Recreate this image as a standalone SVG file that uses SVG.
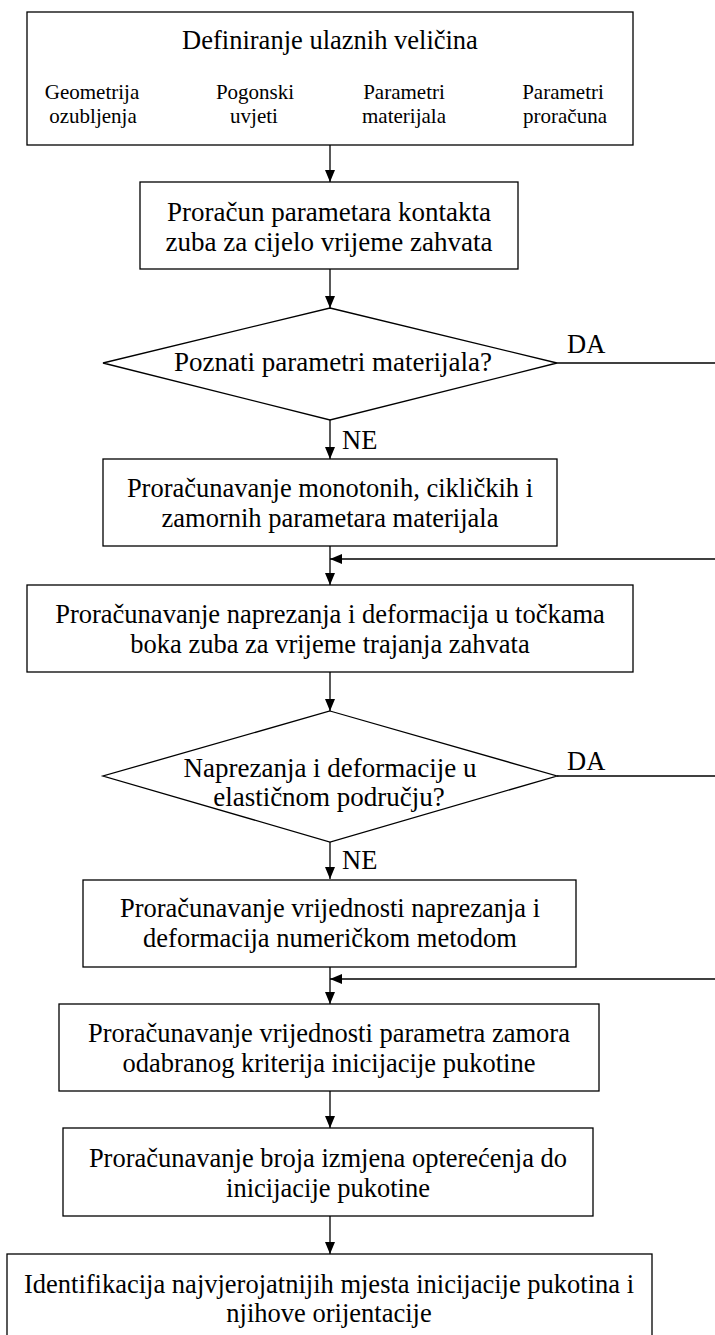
<svg xmlns="http://www.w3.org/2000/svg" width="715" height="1335" viewBox="0 0 715 1335">
<style>
  rect.box, polygon.dia { fill: #fff; stroke: #000; stroke-width: 1.3; }
  text { font-family: "Liberation Serif", "Times New Roman", serif; fill: #000; }
  .t { font-size: 26.5px; text-anchor: middle; }
  .s { font-size: 21px; text-anchor: middle; }
  .lbl { font-size: 26.5px; }
  .c line { stroke: #000; stroke-width: 1.3; fill: none; }
</style>
<defs>
  <marker id="ah" viewBox="0 0 12 10" refX="12" refY="5" markerWidth="12" markerHeight="10" markerUnits="userSpaceOnUse" orient="auto">
    <path d="M0,0 L12,5 L0,10 Z" fill="#000"/>
  </marker>
</defs>
<rect x="0" y="0" width="715" height="1335" fill="#fff"/>

<g class="c" id="connectors">
  <line x1="330" y1="145" x2="330" y2="182" marker-end="url(#ah)"/>
  <line x1="330" y1="269" x2="330" y2="308" marker-end="url(#ah)"/>
  <line x1="330" y1="420" x2="330" y2="459" marker-end="url(#ah)"/>
  <line x1="557" y1="363" x2="715" y2="363"/>
  <line x1="330" y1="546" x2="330" y2="585" marker-end="url(#ah)"/>
  <line x1="715" y1="559" x2="330" y2="559" marker-end="url(#ah)"/>
  <line x1="330" y1="672" x2="330" y2="711" marker-end="url(#ah)"/>
  <line x1="330" y1="842" x2="330" y2="879" marker-end="url(#ah)"/>
  <line x1="557" y1="776" x2="715" y2="776"/>
  <line x1="330" y1="967" x2="330" y2="1004" marker-end="url(#ah)"/>
  <line x1="715" y1="979" x2="330" y2="979" marker-end="url(#ah)"/>
  <line x1="330" y1="1091" x2="330" y2="1128" marker-end="url(#ah)"/>
  <line x1="330" y1="1216" x2="330" y2="1254" marker-end="url(#ah)"/>
  <text class="lbl" x="567" y="353">DA</text>
  <text class="lbl" x="342" y="449">NE</text>
  <text class="lbl" x="567" y="770">DA</text>
  <text class="lbl" x="342" y="869">NE</text>
</g>

<g id="n1">
  <rect class="box" x="27" y="12" width="606" height="133"/>
  <text class="t" x="330" y="49">Definiranje ulaznih veličina</text>
  <text class="s" x="92" y="99">Geometrija</text>
  <text class="s" x="93" y="123">ozubljenja</text>
  <text class="s" x="255" y="99">Pogonski</text>
  <text class="s" x="254" y="123">uvjeti</text>
  <text class="s" x="404" y="99">Parametri</text>
  <text class="s" x="404" y="123">materijala</text>
  <text class="s" x="563" y="99">Parametri</text>
  <text class="s" x="565" y="123">proračuna</text>
</g>

<g id="n2">
  <rect class="box" x="140" y="182" width="378" height="87"/>
  <text class="t" x="329" y="221" style="font-size:27px">Proračun parametara kontakta</text>
  <text class="t" x="329" y="251" style="font-size:27px">zuba za cijelo vrijeme zahvata</text>
</g>

<g id="n3">
  <polygon class="dia" points="330,308 557,363 330,420 103,363"/>
  <text class="t" x="333" y="371" style="font-size:27px">Poznati parametri materijala?</text>
</g>

<g id="n4">
  <rect class="box" x="103" y="459" width="454" height="87"/>
  <text class="t" x="330" y="497">Proračunavanje monotonih, cikličkih i</text>
  <text class="t" x="330" y="527">zamornih parametara materijala</text>
</g>

<g id="n5">
  <rect class="box" x="27" y="585" width="606" height="87"/>
  <text class="t" x="330" y="623">Proračunavanje naprezanja i deformacija u točkama</text>
  <text class="t" x="330" y="653">boka zuba za vrijeme trajanja zahvata</text>
</g>

<g id="n6">
  <polygon class="dia" points="330,711 557,776 330,842 103,776"/>
  <text class="t" x="330" y="777" style="font-size:27px">Naprezanja i deformacije u</text>
  <text class="t" x="329" y="806" style="font-size:27px">elastičnom području?</text>
</g>

<g id="n7">
  <rect class="box" x="83" y="880" width="493" height="87"/>
  <text class="t" x="330" y="917">Proračunavanje vrijednosti naprezanja i</text>
  <text class="t" x="330" y="947">deformacija numeričkom metodom</text>
</g>

<g id="n8">
  <rect class="box" x="59" y="1004" width="540" height="87"/>
  <text class="t" x="329" y="1042">Proračunavanje vrijednosti parametra zamora</text>
  <text class="t" x="329" y="1072">odabranog kriterija inicijacije pukotine</text>
</g>

<g id="n9">
  <rect class="box" x="63" y="1128" width="530" height="88"/>
  <text class="t" x="328" y="1167">Proračunavanje broja izmjena opterećenja do</text>
  <text class="t" x="328" y="1197">inicijacije pukotine</text>
</g>

<g id="n10">
  <rect class="box" x="7" y="1254" width="645" height="84"/>
  <text class="t" x="329" y="1293">Identifikacija najvjerojatnijih mjesta inicijacije pukotina i</text>
  <text class="t" x="329" y="1322">njihove orijentacije</text>
</g>
</svg>
